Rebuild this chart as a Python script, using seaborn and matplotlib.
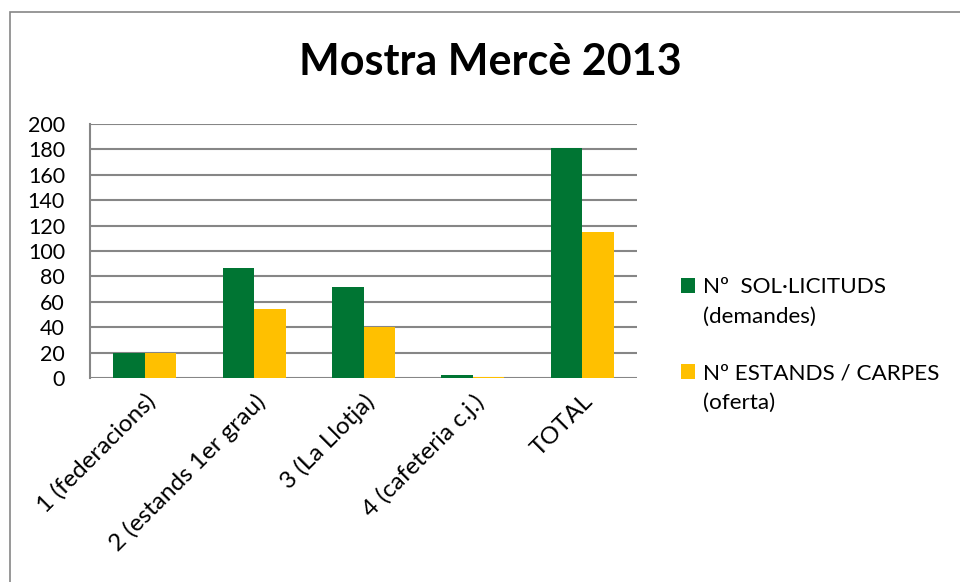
import matplotlib
matplotlib.use("Agg")
import matplotlib.pyplot as plt
import seaborn as sns
import pandas as pd
from matplotlib.patches import Rectangle

categories = ["1 (federacions)", "2 (estands 1er grau)", "3 (La Llotja)", "4 (cafeteria c.j.)", "TOTAL"]
solicituds = [20, 87, 72, 2, 181]
estands = [20, 54, 40, 1, 115]
series_names = ["Nº  SOL·LICITUDS", "Nº ESTANDS / CARPES"]
series_sub = ["(demandes)", "(oferta)"]
colors = ["#007533", "#FFC000"]
yticks = list(range(0, 201, 20))

df = pd.DataFrame({
    "cat": categories * 2,
    "val": solicituds + estands,
    "serie": [series_names[0]] * len(categories) + [series_names[1]] * len(categories),
})

sns.set_style("white")
plt.rcParams['font.family'] = ['Lato', 'DejaVu Sans']
plt.rcParams['text.color'] = 'black'
plt.rcParams['xtick.color'] = 'black'
plt.rcParams['ytick.color'] = 'black'

W, H = 960, 582
fig = plt.figure(figsize=(W/100, H/100), dpi=100)
ax = fig.add_axes([90/W, 1-378/H, (637-90)/W, (378-124)/H])

sns.barplot(data=df, x="cat", y="val", hue="serie", order=categories,
            palette=colors, width=0.575, ax=ax, saturation=1,
            edgecolor="none", linewidth=0, legend=False)

ax.set_ylim(0, 200)
ax.set_yticks(yticks)
ax.set_xlim(-0.5, len(categories) - 0.5)
ax.yaxis.grid(True, color="#868686", linewidth=1.5)
ax.set_axisbelow(True)
for s in ["top", "right", "bottom"]:
    ax.spines[s].set_visible(False)
ax.spines["left"].set_color("#868686")
ax.spines["left"].set_linewidth(1.5)
ax.set_xlabel("")
ax.set_ylabel("")
ax.tick_params(axis="y", labelsize=15.5, length=0, pad=18, labelcolor="black")
ax.tick_params(axis="x", labelsize=17.5, length=0, pad=9, labelcolor="black")
plt.setp(ax.get_xticklabels(), rotation=45, ha="right", rotation_mode="anchor")

# legend (manual, square aligned with first text line)
leg_y = [278, 364]
for i in range(2):
    fig.patches.append(Rectangle((681/W, 1-(leg_y[i]+15)/H), 14/W, 15/H,
                                 transform=fig.transFigure, facecolor=colors[i],
                                 edgecolor="none"))
    fig.text(703/W, 1-(leg_y[i]+9)/H, series_names[i], ha="left", va="center",
             fontsize=16.2)
    fig.text(703/W, 1-(leg_y[i]+39)/H, series_sub[i], ha="left", va="center",
             fontsize=16.2)

fig.text(490/W, 1-62/H, "Mostra Mercè 2013", ha="center", va="center",
         fontsize=31, fontweight="bold")

fig.patches.append(Rectangle((10/W, -0.1), 1.0, 1-12/H + 0.1, transform=fig.transFigure,
                             fill=False, edgecolor="#868686", linewidth=1.2))

fig.savefig("out.png", dpi=100)
